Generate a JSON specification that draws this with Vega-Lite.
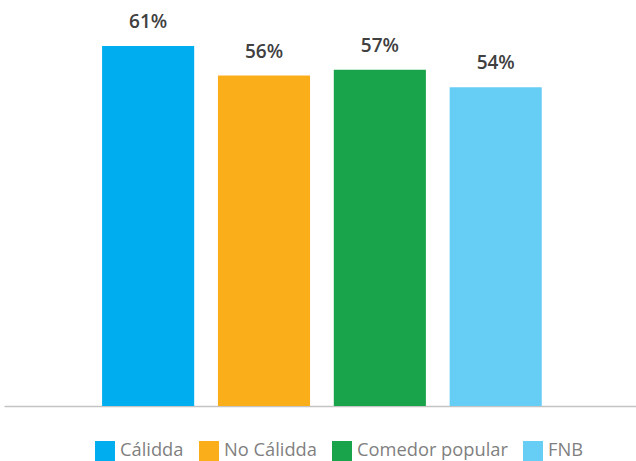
{
  "$schema": "https://vega.github.io/schema/vega-lite/v6.json",
  "width": 632,
  "height": 406,
  "autosize": {"type": "none"},
  "padding": {"left": 4, "top": 0, "right": 0, "bottom": 55},
  "background": "white",
  "config": {"view": {"stroke": null}, "font": "Open Sans"},
  "data": {
    "values": [
      {"grupo": "Cálidda", "valor": 61, "etiqueta": "61%"},
      {"grupo": "No Cálidda", "valor": 56, "etiqueta": "56%"},
      {"grupo": "Comedor popular", "valor": 57, "etiqueta": "57%"},
      {"grupo": "FNB", "valor": 54, "etiqueta": "54%"}
    ]
  },
  "encoding": {
    "x": {
      "field": "grupo",
      "type": "nominal",
      "sort": null,
      "scale": {"paddingOuter": 0.83, "paddingInner": 0.205, "align": 0.51},
      "axis": {"title": null, "labels": false, "ticks": false, "domainColor": "#c4c4c4", "domainWidth": 1.5}
    },
    "y": {
      "field": "valor",
      "type": "quantitative",
      "scale": {"domain": [0, 68.8], "nice": false},
      "axis": null
    }
  },
  "layer": [
    {
      "mark": {"type": "bar"},
      "encoding": {
        "color": {
          "field": "grupo",
          "type": "nominal",
          "sort": null,
          "scale": {
            "domain": ["Cálidda", "No Cálidda", "Comedor popular", "FNB"],
            "range": ["#00AEEF", "#F9AE1A", "#19A34B", "#66CEF4"]
          },
          "legend": {
            "title": null,
            "orient": "none",
            "direction": "horizontal",
            "legendX": 91,
            "legendY": 441,
            "symbolType": "square",
            "symbolSize": 400,
            "symbolStrokeWidth": 0,
            "symbolOpacity": 1,
            "labelFontSize": 18.3,
            "labelColor": "#7f7f7f",
            "labelOffset": 5,
            "columnPadding": 15,
            "labelLimit": 300
          }
        }
      }
    },
    {
      "mark": {"type": "text", "baseline": "alphabetic", "dy": -18, "fontSize": 19, "fontWeight": 600, "color": "#404040"},
      "encoding": {"text": {"field": "etiqueta"}}
    }
  ]
}
